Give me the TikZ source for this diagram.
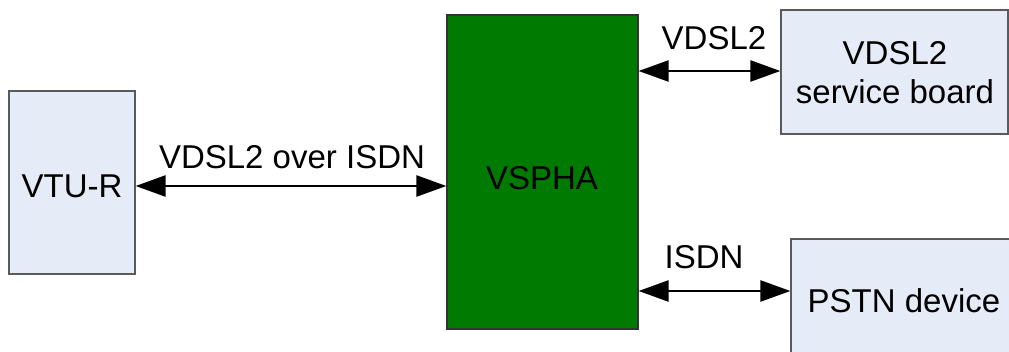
\documentclass[tikz,border=0pt]{standalone}
\usepackage{fontspec}
\setmainfont{Liberation Sans}
\usetikzlibrary{arrows.meta}
\definecolor{boxblue}{HTML}{E6ECF7}
\definecolor{boxedge}{HTML}{5A5A5A}
\definecolor{vgreen}{HTML}{007A00}
\begin{document}
\begin{tikzpicture}[x=1pt,y=-1pt,
  blk/.style={draw=boxedge,line width=1.2pt,fill=boxblue,rectangle,inner sep=0pt,align=center,
    font=\fontsize{33}{40}\selectfont},
  gblk/.style={draw=black!80,line width=1.2pt,fill=vgreen,rectangle,inner sep=0pt},
  lbl/.style={font=\fontsize{33}{40}\selectfont,inner sep=0pt},
  biarr/.style={line width=2.4pt,{Triangle[length=30pt,width=21pt]}-{Triangle[length=30pt,width=21pt]}}]
\useasboundingbox (0,0) rectangle (1009,352);
\clip (0,0) rectangle (1009,352);
\fill[white] (0,0) rectangle (1009,352);
\node[blk,minimum width=126pt,minimum height=183pt] (vtur) at (72,182.5) {};
\node[lbl] (vturt) at (72,186) {VTU-R};
\node[gblk,minimum width=191pt,minimum height=314pt] (vspha) at (542.5,172) {};
\node[lbl] (vsphat) at (542,178) {VSPHA};
\node[blk,minimum width=227pt,minimum height=124pt] (board) at (894.5,72) {};
\node[lbl,align=center] (boardt) at (895,73) {VDSL2\\[-1pt]service board};
\node[blk,minimum width=226pt,minimum height=124pt] (pstn) at (904,301) {};
\node[lbl] (pstnt) at (904,301) {PSTN device};
\coordinate (a1) at (vtur.east |- 0,186);
\coordinate (a2) at (vspha.west |- 0,186);
\coordinate (b1) at (vspha.east |- 0,71);
\coordinate (b2) at (board.west |- 0,71);
\coordinate (c1) at (vspha.east |- 0,291);
\coordinate (c2) at (pstn.west |- 0,291);
\draw[biarr] (a1) -- (a2);
\draw[biarr] (b1) -- (b2);
\draw[biarr] (c1) -- (c2);
\node[lbl] (l1) at (292,157) {VDSL2 over ISDN};
\node[lbl] (l2) at (714,38) {VDSL2};
\node[lbl] (l3) at (704,257) {ISDN};
\end{tikzpicture}
\end{document}
